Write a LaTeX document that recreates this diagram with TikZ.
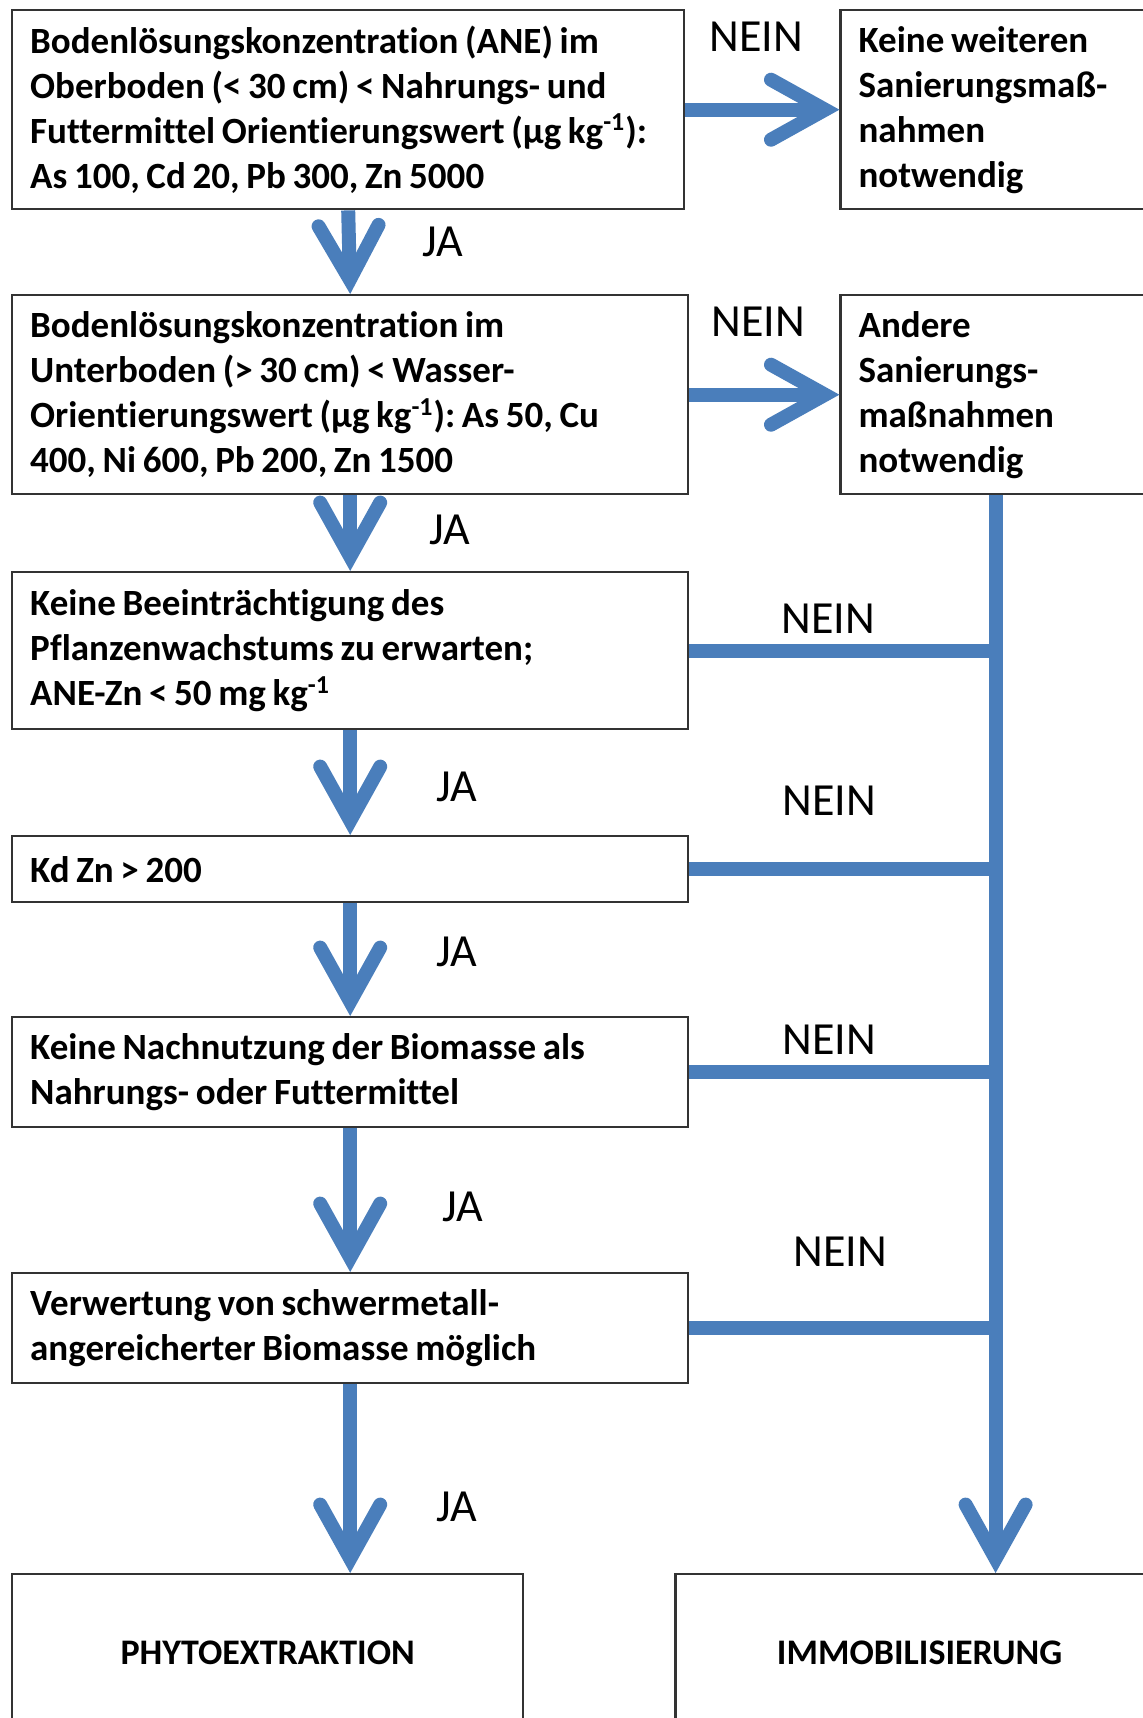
\documentclass[tikz,border=0pt]{standalone}
\usepackage{fontspec}
\setmainfont{Carlito}[Ligatures=NoCommon]
\usepackage{tikz}
\usetikzlibrary{positioning, arrows.meta}
\definecolor{flowblue}{HTML}{4A7EBB}
\XeTeXinterwordspaceshaping=0
\newcommand\tightwords{\spaceskip=0.18em plus 0.02em\relax\xspaceskip=\spaceskip}

\begin{document}
\begin{tikzpicture}[
        check/.style={rectangle, draw=black!80, line width=1.2pt, anchor=north west, align=left, text width=320pt, inner xsep=9pt, minimum height=#1, font=\fontsize{18.5}{22.5}\selectfont\bfseries, execute at begin node=\tightwords},
        result/.style={check=#1, text width=137pt},
        outcome/.style={rectangle, draw=black!80, line width=1.2pt, minimum height=79pt, font=\fontsize{18}{22}\selectfont\bfseries},
        lbl/.style={font=\fontsize{23}{26}\selectfont, text=black},
        flow/.style={line width=7pt, flowblue},
        arrow/.style={flow, -{Straight Barb[length=27pt, width=30pt, line cap=round]}}
    ]
        \useasboundingbox (0,0) rectangle (571pt,-859pt);

        % Nodes
        \node[check=99.5pt, text width=318pt] (cond1) at (5.5pt,-4.5pt) {Bodenlösungskonzentration  (ANE) im\\Oberboden (< 30 cm)  < Nahrungs- und\\Futtermittel  Orientierungswert (µg kg\textsuperscript{-1}):\\As 100, Cd 20, Pb 300, Zn 5000};
        \node[check=99.5pt, below=41.8pt of cond1.south west, anchor=north west] (cond2) {Bodenlösungskonzentration im\\Unterboden  (> 30 cm) < Wasser-\\Orientierungswert (µg kg\textsuperscript{-1}): As 50, Cu\\400, Ni 600, Pb 200, Zn 1500};
        \node[check=78.5pt, below=37.8pt of cond2.south west, anchor=north west] (cond3) {Keine Beeinträchtigung des\\Pflanzenwachstums zu erwarten;\\ANE-Zn < 50 mg kg\textsuperscript{-1}};
        \node[check=33pt, below=52.3pt of cond3.south west, anchor=north west] (cond4) {Kd Zn > 200};
        \node[check=55pt, below=56.3pt of cond4.south west, anchor=north west] (cond5) {Keine Nachnutzung der Biomasse als\\Nahrungs- oder Futtermittel};
        \node[check=55pt, below=71.8pt of cond5.south west, anchor=north west] (cond6) {Verwertung von schwermetall-\\angereicherter Biomasse möglich};

        \node[result=99.5pt, right=77pt of cond1.north east, anchor=north west] (none) {Keine weiteren\\Sanierungsmaß-\\nahmen\\notwendig};
        \node[result=99.5pt, right=75pt of cond2.north east, anchor=north west] (other) {Andere\\Sanierungs-\\maßnahmen\\notwendig};

        \node[outcome, minimum width=255.5pt, below=94.3pt of cond6.south west, anchor=north west] (phyto) {PHYTOEXTRAKTION};
        \node[outcome, minimum width=244pt, right=75pt of phyto.north east, anchor=north west] (immo) {IMMOBILISIERUNG};

        % JA
        \draw[arrow] (cond1.south) -- (cond2.north) node[lbl, midway, xshift=47pt, yshift=5pt] {JA};
        \draw[arrow] (cond2.south) -- (cond3.north) node[lbl, midway, xshift=50pt, yshift=1.5pt] {JA};
        \draw[arrow] (cond3.south) -- (cond4.north) node[lbl, midway, xshift=53.5pt, yshift=-2pt] {JA};
        \draw[arrow] (cond4.south) -- (cond5.north) node[lbl, midway, xshift=53.5pt, yshift=4pt] {JA};
        \draw[arrow] (cond5.south) -- (cond6.north) node[lbl, midway, xshift=56.5pt, yshift=-3.5pt] {JA};
        \draw[arrow] (cond6.south) -- (cond6.south |- phyto.north) node[lbl, midway, xshift=53.5pt, yshift=-14pt] {JA};

        % NEIN
        \draw[arrow] (cond1.east) -- (none.west) node[lbl, midway, xshift=-3pt, yshift=36.5pt] {NEIN};
        \draw[arrow] (cond2.east) -- (other.west) node[lbl, midway, xshift=-3pt, yshift=36.5pt] {NEIN};
        \draw[arrow] (other.south) -- (other.south |- immo.north);
        \draw[flow] (cond3.east) -- (cond3.east -| other.south) node[lbl, midway, xshift=-7pt, yshift=16pt] {NEIN};
        \draw[flow] (cond4.east) -- (cond4.east -| other.south) node[lbl, midway, xshift=-6.5pt, yshift=34pt] {NEIN};
        \draw[flow] (cond5.east) -- (cond5.east -| other.south) node[lbl, midway, xshift=-6.5pt, yshift=16pt] {NEIN};
        \draw[flow] (cond6.east) -- (cond6.east -| other.south) node[lbl, midway, xshift=-1pt, yshift=38pt] {NEIN};
    \end{tikzpicture}
\end{document}
